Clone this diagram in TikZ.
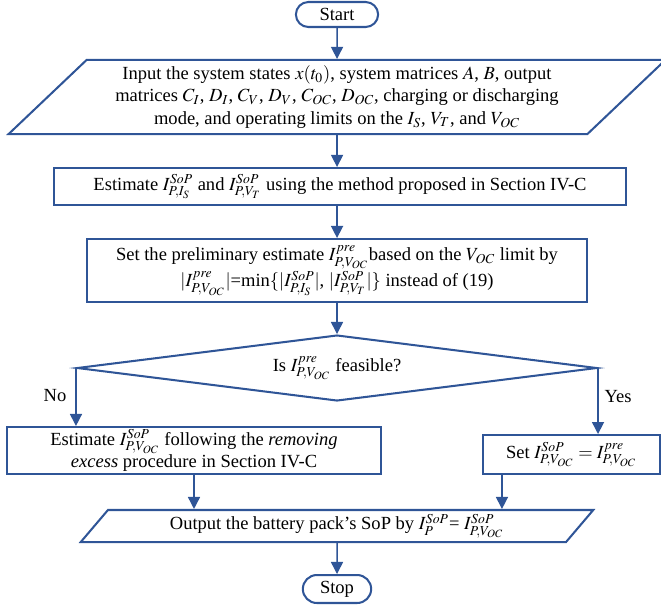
\documentclass[tikz,border=0pt]{standalone}
\usepackage{mathptmx}
\usepackage{fontspec}
\setmainfont{Liberation Serif}
\usetikzlibrary{shapes.geometric,shapes.misc,arrows.meta,calc}
\definecolor{FlowBlue}{HTML}{2F5597}

\begin{document}
\begin{tikzpicture}[x=0.54pt,y=-0.54pt,
    box/.style={draw=FlowBlue,line width=1.1pt,align=center,inner sep=1pt},
    terminal/.style={box,rounded rectangle},
    io/.style={box,trapezium,trapezium stretches=true},
    decision/.style={box,diamond,shape aspect=7.9,inner sep=0pt},
    flow/.style={draw=FlowBlue,line width=0.8pt,-{Triangle[length=6.5pt,width=6.5pt]}}]
    \useasboundingbox (0,0) rectangle (661,604);

    \node[terminal,minimum width=46.4pt,minimum height=13.5pt] (start) at (337,14.5) {Start};
    \node[io,trapezium left angle=43.5,trapezium right angle=136.5,
          minimum width=356.4pt,minimum height=40pt] (input) at (337,97)
        {Input the system states $x(t_0)$, system matrices $A$, $B$, output\\
         matrices $C_I$, $D_I$, $C_V$, $D_V$, $C_{OC}$, $D_{OC}$, charging or discharging\\
         mode, and operating limits on the $I_S$, $V_T$, and $V_{OC}$};
    \node[box,minimum width=308.9pt,minimum height=20pt] (est) at (340,186.5)
        {Estimate $I^{SoP}_{P,I_S}$ and $I^{SoP}_{P,V_T}$ using the method proposed in Section IV-C};
    \node[box,minimum width=270pt,minimum height=34pt] (pre) at (337,270.5)
        {Set the preliminary estimate $I^{pre}_{P,V_{OC}}$based on the $V_{OC}$ limit by\\
         $|I^{pre}_{P,V_{OC}}|$=min$\{|I^{SoP}_{P,I_S}|$, $|I^{SoP}_{P,V_T}|\}$ instead of (19)};
    \node[decision,minimum width=280.8pt,minimum height=35.6pt] (feas) at (337,368)
        {Is $I^{pre}_{P,V_{OC}}$ feasible?};
    \node[box,minimum width=202pt,minimum height=25.4pt] (excess) at (194,450.5)
        {Estimate $I^{SoP}_{P,V_{OC}}$ following the \textit{removing}\\
         \textit{excess} procedure in Section IV-C};
    \node[box,minimum width=95.6pt,minimum height=21pt] (keep) at (571.5,454.5)
        {Set $I^{SoP}_{P,V_{OC}}=I^{pre}_{P,V_{OC}}$};
    \node[io,trapezium left angle=54.3,trapezium right angle=125.7,
          minimum width=277.6pt,minimum height=17.3pt] (out) at (337,526)
        {Output the battery pack’s SoP by $I^{SoP}_P$= $I^{SoP}_{P,V_{OC}}$};
    \node[terminal,minimum width=38.9pt,minimum height=15.1pt] (stop) at (337,589) {Stop};

    \node (no) at (55,396) {No};
    \node (yes) at (618,397) {Yes};

    \draw[flow] (start) -- (input);
    \draw[flow] (input.south) -- (input.south |- est.north);
    \draw[flow] (input.south |- est.south) -- (input.south |- pre.north);
    \draw[flow] (pre) -- (feas);
    \draw[flow] (feas.west) -- (feas.west |- excess.north);
    \draw[flow] (feas.east) -- (feas.east |- keep.north);
    \draw[flow] (excess.south) -- (excess.south |- out.north);
    \coordinate (keepfoot) at ($(keep.south west)+(20,0)$);
    \draw[flow] (keepfoot) -- (keepfoot |- out.north);
    \draw[flow] (out) -- (stop);
\end{tikzpicture}
\end{document}
